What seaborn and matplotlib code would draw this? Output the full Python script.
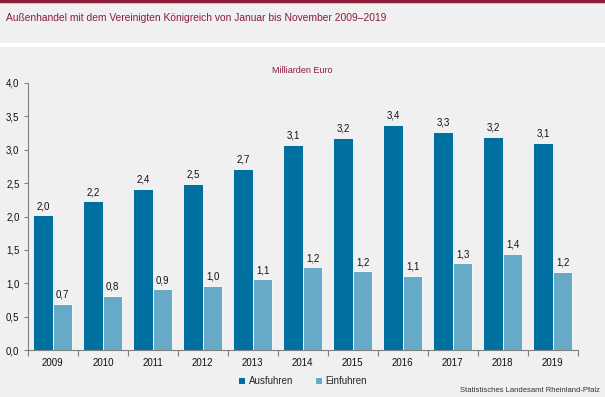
import pandas as pd
import matplotlib.pyplot as plt
import seaborn as sns
from matplotlib.ticker import FuncFormatter, FixedLocator

sns.set_theme(style="white")
plt.rcParams["font.family"] = ["Liberation Sans", "DejaVu Sans"]

years = ["2009", "2010", "2011", "2012", "2013", "2014", "2015", "2016", "2017", "2018", "2019"]
ausfuhren = [2.02, 2.23, 2.42, 2.49, 2.71, 3.07, 3.18, 3.37, 3.27, 3.19, 3.10]
einfuhren = [0.69, 0.81, 0.91, 0.96, 1.06, 1.24, 1.18, 1.11, 1.30, 1.44, 1.17]
series = ["Ausfuhren", "Einfuhren"]

bg = "#eff0ef"
maroon = "#8b1d3b"
palette = {"Ausfuhren": "#0070a0", "Einfuhren": "#66aac8"}

df = pd.DataFrame({
    "year": years * 2,
    "value": ausfuhren + einfuhren,
    "series": [series[0]] * len(years) + [series[1]] * len(years),
})

fig = plt.figure(figsize=(6.05, 3.97), dpi=100, facecolor=bg)
ax = fig.add_axes([0.046, 0.118, 0.909, 0.673])
ax.set_facecolor(bg)

sns.barplot(data=df, x="year", y="value", hue="series", palette=palette,
            hue_order=series, order=years, width=0.78, edgecolor="white",
            linewidth=0.6, saturation=1, ax=ax, legend=True)

comma = lambda v: f"{v:.1f}".replace(".", ",")
for cont in ax.containers:
    ax.bar_label(cont, labels=[comma(b.get_height()) for b in cont],
                 padding=3, fontsize=7, color="#111111")

ax.set_ylim(0, 4.0)
ax.set_xlim(-0.5, len(years) - 0.5)
ax.set_yticks([i * 0.5 for i in range(9)])
ax.yaxis.set_major_formatter(FuncFormatter(lambda v, p: comma(v)))
ax.set_xlabel("")
ax.set_ylabel("")

for s in ["top", "right"]:
    ax.spines[s].set_visible(False)
for s in ["left", "bottom"]:
    ax.spines[s].set_color("#808080")
    ax.spines[s].set_linewidth(0.8)

ax.tick_params(axis="y", left=True, length=3, width=0.8, color="#808080",
               labelsize=7, labelcolor="#111111", pad=3)
ax.tick_params(axis="x", which="major", length=0, labelsize=7,
               labelcolor="#111111", pad=6)
ax.xaxis.set_minor_locator(FixedLocator([i - 0.5 for i in range(len(years) + 1)]))
ax.tick_params(axis="x", which="minor", bottom=True, length=4, width=0.8,
               color="#808080")

leg = ax.legend(loc="upper center", bbox_to_anchor=(0.5, -0.065), ncol=2,
                frameon=False, fontsize=7, handlelength=0.7, handleheight=0.7,
                columnspacing=2.2, handletextpad=0.4)

# header
fig.add_artist(plt.Line2D([0, 1], [0.997, 0.997], color=maroon, lw=2.5))
fig.add_artist(plt.Rectangle((0, 0.882), 1, 0.01, color="white", lw=0))
fig.text(0.01, 0.955, "Außenhandel mit dem Vereinigten Königreich von Januar bis November 2009–2019",
         fontsize=7.4, color=maroon, va="center")
fig.text(0.5, 0.823, "Milliarden Euro", fontsize=6.5, color=maroon, ha="center", va="center")
fig.text(0.992, 0.017, "Statistisches Landesamt Rheinland-Pfalz", fontsize=5.5,
         color="#333333", ha="right", va="center")

fig.savefig("out.png", dpi=100, facecolor=bg)
